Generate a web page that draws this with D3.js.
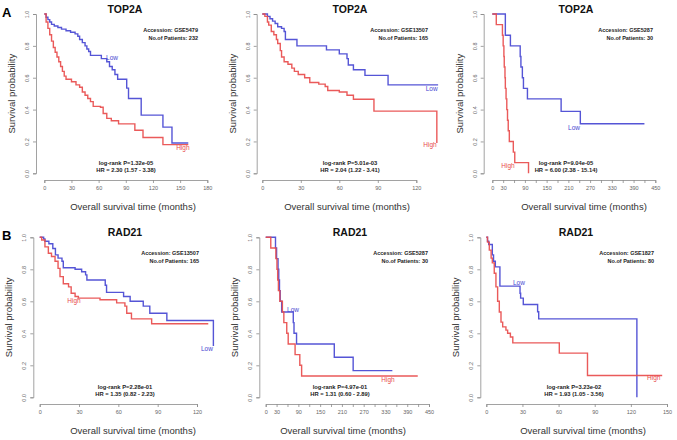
<!DOCTYPE html>
<html><head><meta charset="utf-8">
<script src="https://cdn.jsdelivr.net/npm/d3@7"></script>
<style>body{margin:0;background:#fff}svg{display:block;font-family:"Liberation Sans",Arial,sans-serif}</style>
</head><body><svg id="c" width="677" height="440"></svg>
<script>
// ---------- data ----------
const genes = ["TOP2A","TOP2A","TOP2A","RAD21","RAD21","RAD21"];
const accessions = ["GSE5479","GSE13507","GSE5287","GSE13507","GSE5287","GSE1827"];
const patients = [232,165,30,165,30,80];
const logrankP = ["1.32e-05","5.01e-03","9.04e-05","2.28e-01","4.97e-01","3.23e-02"];
const hazardRatio = ["2.30 (1.57 - 3.38)","2.04 (1.22 - 3.41)","6.00 (2.38 - 15.14)","1.35 (0.82 - 2.23)","1.31 (0.60 - 2.89)","1.93 (1.05 - 3.56)"];
const yTicks = [0,0.2,0.4,0.6,0.8,1.0];
const xTicks180 = [0,30,60,90,120,150,180];
const xTicks120 = [0,30,60,90,120];
const xTicks150 = [0,30,60,90,120,150];
const xTicks450 = [0,30,60,90,120,150,180,210,240,270,300,330,360,390,420,450];
const xLabels450 = [0,30,90,150,210,270,330,390,450];

const p1LowTime = [0,2,4,6,8,11,15,19,24,29,34,37,39,42,45,47,49,51,63,69,72,75,78,81,91,93,107,131,141,159];
const p1LowSurv = [1,0.98,0.965,0.95,0.935,0.925,0.915,0.905,0.895,0.885,0.875,0.86,0.84,0.82,0.80,0.78,0.765,0.74,0.72,0.70,0.67,0.65,0.62,0.59,0.535,0.47,0.365,0.29,0.19,0.19];
const p1HighTime = [0,2,4,6,8,10,12,14,16,18,20,22,24,30,35,39,42,45,48,51,54,62,65,69,74,82,100,109,131,159];
const p1HighSurv = [1,0.95,0.91,0.87,0.83,0.79,0.76,0.73,0.70,0.67,0.64,0.61,0.59,0.575,0.555,0.54,0.51,0.49,0.47,0.45,0.42,0.415,0.375,0.345,0.33,0.31,0.27,0.225,0.18,0.18];

const p2LowTime = [0,4,6,8,10,12,15,17,18,27,50,60,66,67,71,80,98,137];
const p2LowSurv = [1,0.985,0.97,0.955,0.94,0.92,0.91,0.89,0.84,0.80,0.775,0.75,0.72,0.68,0.65,0.615,0.555,0.555];
const p2HighTime = [0,2,4,5,7,9,11,12,14,15,17,20,23,25,28,33,37,44,49,51,60,66,71,87,136];
const p2HighSurv = [1,0.985,0.95,0.93,0.89,0.87,0.84,0.815,0.77,0.73,0.70,0.685,0.66,0.64,0.62,0.60,0.57,0.56,0.545,0.52,0.51,0.49,0.465,0.39,0.19];

const p3LowTime = [0,36,50,77,79,83,86,97,190,243,420];
const p3LowSurv = [1,0.867,0.80,0.733,0.667,0.60,0.533,0.467,0.389,0.311,0.311];
const p3HighTime = [0,11,28,30,32,33,35,36,38,40,42,44,47,58,62,100];
const p3HighSurv = [1,0.933,0.867,0.80,0.733,0.667,0.60,0.533,0.467,0.40,0.333,0.267,0.20,0.133,0.067,0];

const p4LowTime = [0,3,4,7,10,12,14,17,18,27,32,35,36,50,51,64,69,79,84,97,132.5];
const p4LowSurv = [1,0.99,0.975,0.96,0.93,0.89,0.87,0.85,0.81,0.80,0.785,0.765,0.733,0.70,0.656,0.63,0.60,0.57,0.525,0.48,0.32];
const p4HighTime = [0,1.5,4,6.6,9,11.7,14,15.5,18,22,24,27,29.5,46,58.7,65,66.4,70,85.4,128.6];
const p4HighSurv = [1,0.983,0.94,0.90,0.88,0.85,0.806,0.754,0.71,0.69,0.65,0.63,0.62,0.61,0.59,0.57,0.525,0.49,0.46,0.46];

const p5LowTime = [0,27,30,34,36,38,40,44,76,78,85,189,241,349];
const p5LowSurv = [1,0.933,0.867,0.80,0.733,0.667,0.60,0.533,0.467,0.40,0.333,0.25,0.167,0.167];
const p5HighTime = [0,14,28,31,33,35,39,46,50,58,62,81,94,99,419];
const p5HighSurv = [1,0.933,0.867,0.80,0.733,0.667,0.60,0.533,0.467,0.40,0.333,0.267,0.20,0.133,0.133];

const p6LowTime = [0,1,2,5,6,7.5,11.3,28,28.5,30.7,42.6,43.5,125];
const p6LowSurv = [1,0.975,0.955,0.89,0.85,0.815,0.695,0.65,0.62,0.58,0.535,0.49,0];
const p6HighTime = [0,1,2.5,4,5,6.6,8,9.4,10.8,12.2,13.6,16.3,17.7,20,22,60.6,84,146];
const p6HighSurv = [1,0.97,0.92,0.87,0.84,0.775,0.69,0.60,0.533,0.47,0.44,0.42,0.40,0.377,0.34,0.276,0.136,0.136];

// ---------- layout ----------
const row1 = {yTop:14, yBot:173.3, axisY:180};
const row2 = {yTop:237.3, yBot:397.3, axisY:404};
const panels = [
  {row:row1, ax:36,    x0:44.3,  x1:207.3, ticks:xTicks180, labels:xTicks180, cx:125, xtx:133, accR:198, lrX:126,
   low:[p1LowTime,p1LowSurv], high:[p1HighTime,p1HighSurv], lowLab:[74.8,0.724], highLab:[153,0.165], letter:"A"},
  {row:row1, ax:256.7, x0:262.3, x1:416.3, ticks:xTicks120, labels:xTicks120, cx:350, xtx:347, accR:428, lrX:350,
   low:[p2LowTime,p2LowSurv], high:[p2HighTime,p2HighSurv], lowLab:[132,0.535], highLab:[130.7,0.178]},
  {row:row1, ax:483.7, x0:492.3, x1:655.3, ticks:xTicks450, labels:xLabels450, cx:576, xtx:584, accR:653, lrX:566,
   low:[p3LowTime,p3LowSurv], high:[p3HighTime,p3HighSurv], lowLab:[225.6,0.29], highLab:[43.3,0.052]},
  {row:row2, ax:33.3,  x0:39.7,  x1:197,   ticks:xTicks120, labels:xTicks120, cx:125, xtx:133, accR:199, lrX:125,
   low:[p4LowTime,p4LowSurv], high:[p4HighTime,p4HighSurv], lowLab:[127.6,0.302], highLab:[26.2,0.602], letter:"B"},
  {row:row2, ax:259.3, x0:265.7, x1:429,   ticks:xTicks450, labels:xLabels450, cx:350, xtx:343, accR:428, lrX:340,
   low:[p5LowTime,p5LowSurv], high:[p5HighTime,p5HighSurv], lowLab:[75.2,0.546], highLab:[337,0.114]},
  {row:row2, ax:480.3, x0:486.3, x1:667,   ticks:xTicks150, labels:xTicks150, cx:576, xtx:583, accR:654, lrX:574,
   low:[p6LowTime,p6LowSurv], high:[p6HighTime,p6HighSurv], lowLab:[27.1,0.715], highLab:[139,0.121]}
];
const BLUE = "#4747d2", RED = "#e84c4c", AXIS = "#8a8a8a";

const svg = d3.select("#c");
panels.forEach((p, i) => {
  const g = svg.append("g");
  const r = p.row;
  const xMax = p.ticks[p.ticks.length-1];
  const x = d3.scaleLinear().domain([0, xMax]).range([p.x0, p.x1]);
  const y = d3.scaleLinear().domain([0, 1]).range([r.yBot, r.yTop]);

  // y axis
  const ya = g.append("g").attr("transform", `translate(${p.ax},0)`)
    .call(d3.axisLeft(y).tickValues(yTicks).tickFormat(d3.format(".1f")).tickSize(3).tickPadding(2));
  ya.select(".domain").attr("stroke", AXIS).attr("stroke-width", 0.8);
  ya.selectAll(".tick line").attr("stroke", AXIS).attr("stroke-width", 0.8);
  ya.selectAll(".tick text").attr("font-size", 5.5).attr("fill", "#666")
    .attr("text-anchor", "middle").attr("x", 0).attr("dy", 0)
    .attr("transform", "translate(-7,0) rotate(-90)");

  // x axis
  const xa = g.append("g").attr("transform", `translate(0,${r.axisY})`)
    .call(d3.axisBottom(x).tickValues(p.ticks).tickSize(3).tickPadding(3)
      .tickFormat(d => p.labels.includes(d) ? d : ""));
  xa.select(".domain").attr("stroke", AXIS).attr("stroke-width", 0.8);
  xa.selectAll(".tick line").attr("stroke", AXIS).attr("stroke-width", 0.8);
  xa.selectAll(".tick text").attr("font-size", 5.5).attr("fill", "#666");

  // curves
  const line = d3.line().x(d => x(d[0])).y(d => y(d[1])).curve(d3.curveStepAfter);
  const mk = (arr) => arr[0].map((t, k) => [t, arr[1][k]]);
  [[p.low, BLUE], [p.high, RED]].forEach(([s, c]) => {
    g.append("path").datum(mk(s)).attr("d", line).attr("fill", "none")
      .attr("stroke", c).attr("stroke-width", 1.4).attr("stroke-opacity", 0.92);
  });

  // curve labels
  g.append("text").attr("x", x(p.lowLab[0])).attr("y", y(p.lowLab[1]))
    .attr("text-anchor", "middle").attr("dominant-baseline", "central")
    .attr("font-size", 6.5).attr("fill", BLUE).text("Low");
  g.append("text").attr("x", x(p.highLab[0])).attr("y", y(p.highLab[1]))
    .attr("text-anchor", "middle").attr("dominant-baseline", "central")
    .attr("font-size", 6.5).attr("fill", RED).text("High");

  // titles
  g.append("text").attr("x", p.cx).attr("y", r.yTop - 1.5).attr("text-anchor", "middle")
    .attr("font-size", 10.5).attr("font-weight", "bold").attr("fill", "#111").text(genes[i]);
  g.append("text").attr("x", p.xtx).attr("y", r.axisY + 30).attr("text-anchor", "middle")
    .attr("font-size", 9.5).attr("fill", "#333").text("Overall survival time (months)");
  g.append("text").attr("transform", `translate(${p.ax - 21},${(r.yTop + r.yBot) / 2}) rotate(-90)`)
    .attr("text-anchor", "middle").attr("font-size", 9.5).attr("fill", "#333").text("Survival probability");

  // annotations
  g.append("text").attr("x", p.accR).attr("y", r.yTop + 18).attr("text-anchor", "end")
    .attr("font-size", 5.5).attr("font-weight", "bold").attr("fill", "#222").text("Accession: " + accessions[i]);
  g.append("text").attr("x", p.accR).attr("y", r.yTop + 26).attr("text-anchor", "end")
    .attr("font-size", 5.5).attr("font-weight", "bold").attr("fill", "#222").text("No.of Patients: " + patients[i]);
  g.append("text").attr("x", p.lrX).attr("y", r.yBot - 8.5).attr("text-anchor", "middle")
    .attr("font-size", 5.8).attr("font-weight", "bold").attr("fill", "#222").text("log-rank P=" + logrankP[i]);
  g.append("text").attr("x", p.lrX).attr("y", r.yBot - 1.5).attr("text-anchor", "middle")
    .attr("font-size", 5.8).attr("font-weight", "bold").attr("fill", "#222").text("HR = " + hazardRatio[i]);

  if (p.letter) {
    g.append("text").attr("x", 2).attr("y", r.yTop + 3).attr("font-size", 13)
      .attr("font-weight", "bold").attr("fill", "#000").text(p.letter);
  }
});
</script></body></html>
